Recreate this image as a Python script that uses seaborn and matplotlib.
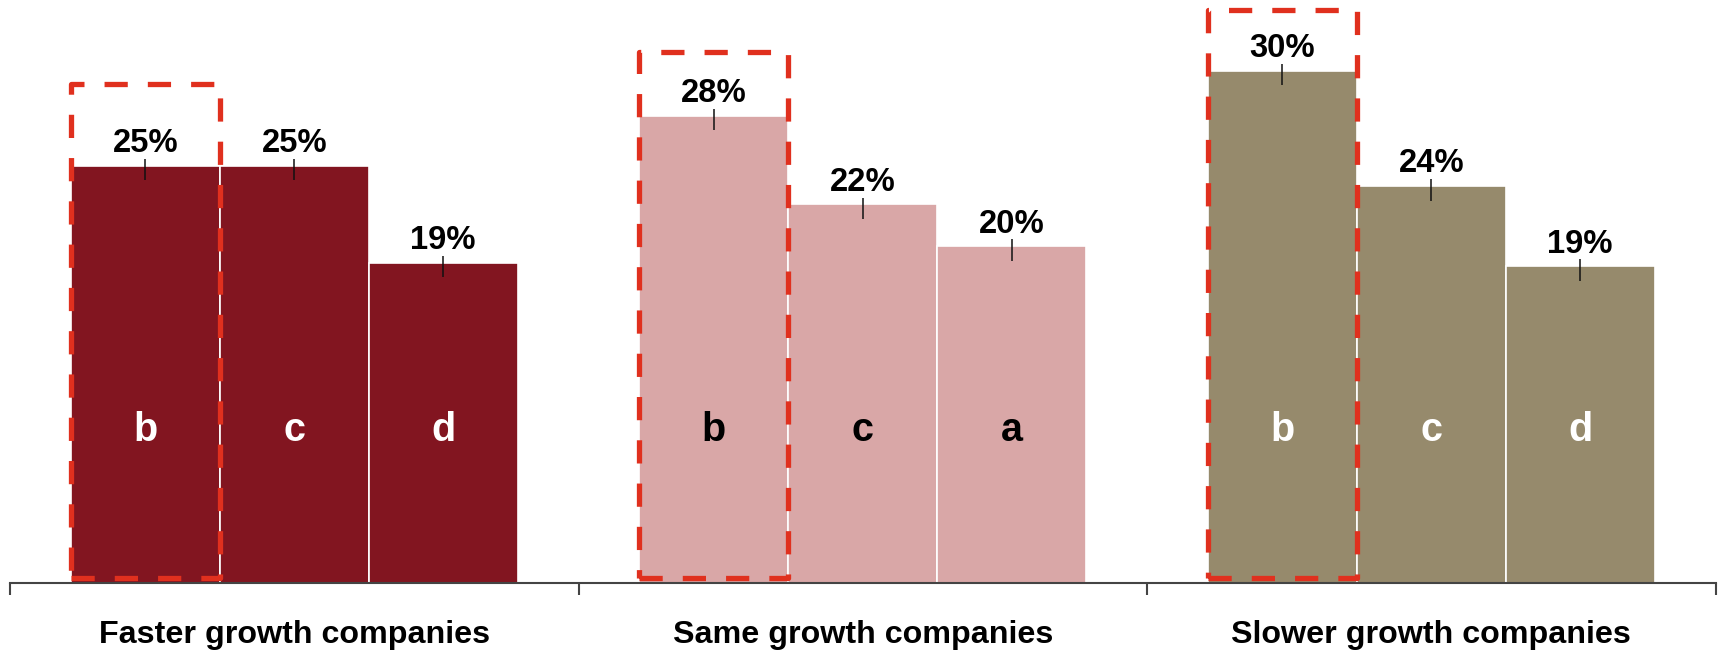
import matplotlib
matplotlib.use("Agg")
import matplotlib.pyplot as plt
from matplotlib.patches import Rectangle
import seaborn as sns
import pandas as pd

# ---- data ----
groups = ["Faster growth companies", "Same growth companies", "Slower growth companies"]
bar_letters = [["b", "c", "d"], ["b", "c", "a"], ["b", "c", "d"]]
values = [[25.0, 25.0, 19.2], [28.0, 22.7, 20.2], [30.7, 23.8, 19.0]]
value_labels = [["25%", "25%", "19%"], ["28%", "22%", "20%"], ["30%", "24%", "19%"]]
highlight_slot = 0  # highlighted (dashed box) bar in every group

# ---- style ----
group_colors = ["#821520", "#D9A7A7", "#968A6C"]
letter_colors = ["white", "black", "white"]
box_color = "#E0301E"
box_tops = [29.9, 31.8, 34.35]  # dashed box top per group (data units)

sns.set_theme(style="white")
plt.rcParams["font.family"] = ["Liberation Sans", "DejaVu Sans"]
plt.rcParams["font.weight"] = "bold"

rows = []
for gi, g in enumerate(groups):
    for si in range(3):
        rows.append({"group": g, "slot": si, "value": values[gi][si]})
df = pd.DataFrame(rows)

fig = plt.figure(figsize=(17.19, 6.51), dpi=100)
ax = fig.add_axes([10 / 1719, (651 - 583.3) / 651, 1705.5 / 1719, 583.3 / 651])

sns.barplot(data=df, x="group", y="value", hue="slot", order=groups,
            hue_order=[0, 1, 2], dodge=True, width=0.786, gap=0,
            saturation=1, legend=False, errorbar=None, ax=ax,
            edgecolor="white", linewidth=1.2)

ax.set_xlim(-0.5, 2.5)
ax.set_ylim(0, 583.3 / 16.7)

for si, cont in enumerate(ax.containers):
    for gi, bar in enumerate(cont):
        bar.set_facecolor(group_colors[gi])
        x = bar.get_x()
        w = bar.get_width()
        h = bar.get_height()
        cx = x + w / 2
        ax.text(cx, h + 0.8, value_labels[gi][si], ha="center", va="baseline",
                fontsize=23.6, fontweight="bold", color="black")
        ax.plot([cx, cx], [h + 0.4, h - 0.88], color="#111111", lw=1.1,
                solid_capstyle="butt")
        ax.text(cx, 8.54, bar_letters[gi][si], ha="center", va="baseline",
                fontsize=28.5, fontweight="bold", color=letter_colors[gi])
        if si == highlight_slot:
            rect = Rectangle((x, 0.3), w, box_tops[gi] - 0.3, fill=False,
                             edgecolor=box_color, lw=3.8, linestyle=(0, (4.4, 3.8)),
                             joinstyle="round", capstyle="butt", zorder=5,
                             clip_on=False)
            ax.add_patch(rect)

for s in ["top", "right", "left"]:
    ax.spines[s].set_visible(False)
ax.spines["bottom"].set_color("#444444")
ax.spines["bottom"].set_linewidth(1.5)

ax.set_yticks([])
ax.set_xlabel("")
ax.set_ylabel("")
ax.set_xticks([0, 1, 2])
ax.set_xticklabels(groups, fontsize=23.2, fontweight="bold", color="black")
ax.tick_params(axis="x", which="major", length=0, pad=26.5)
ax.set_xticks([-0.5, 0.5, 1.5, 2.5], minor=True)
ax.tick_params(axis="x", which="minor", length=8.6, width=1.5, color="#444444",
               direction="out", bottom=True)

fig.savefig("out.png", dpi=100)
